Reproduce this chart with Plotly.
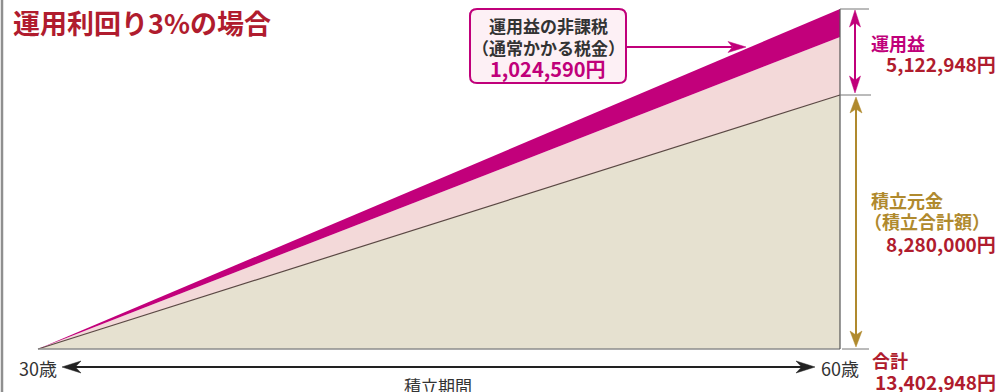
import plotly.graph_objects as go

W, H = 1005, 392

# ---- data ----
ages = [30, 60]                       # start / end age
# schematic band heights as drawn (illustration is not to scale)
principal_h = [0, 254]                # 積立元金 top
after_tax_h = [0, 312]                # top of pink band
total_h = [0, 340]                    # 合計 top
principal_amount = 8280000
profit_amount = 5122948
tax_amount = 1024590
total_amount = 13402948
age_labels = ["30歳", "60歳"]

FONT = "Noto Sans CJK JP"
DARK = "#333333"
RED = "#b01c2e"
MAG = "#c0007a"
GOLD = "#b08a2e"

def px(x):
    return x / W

def py(y):
    return 1 - y / H

x_per_px = (ages[1] - ages[0]) / (840 - 38)
xr = [ages[0] - 38 * x_per_px, ages[1] + (W - 840) * x_per_px]
yr = [-(H - 349), 349]

fig = go.Figure()
fig.add_trace(go.Scatter(x=ages, y=principal_h, mode="lines", fill="tozeroy",
                         fillcolor="#e6e1d0", line=dict(color="#5a4843", width=1.2),
                         hoverinfo="skip", showlegend=False))
fig.add_trace(go.Scatter(x=ages, y=after_tax_h, mode="lines", fill="tonexty",
                         fillcolor="#f3d9d9", line=dict(color="#f3d9d9", width=0),
                         hoverinfo="skip", showlegend=False))
fig.add_trace(go.Scatter(x=ages, y=total_h, mode="lines", fill="tonexty",
                         fillcolor="#c2007b", line=dict(color="#c2007b", width=0),
                         hoverinfo="skip", showlegend=False))

shapes = []
# frame lines of the triangle (data coords)
shapes.append(dict(type="line", xref="x", yref="y", x0=ages[0], x1=ages[1], y0=0, y1=0,
                   line=dict(color="#8c8c8c", width=1.5)))
shapes.append(dict(type="line", xref="x", yref="y", x0=ages[1], x1=ages[1], y0=0, y1=total_h[1],
                   line=dict(color="#555555", width=1.2)))

def pline(x0, y0, x1, y1, color, width):
    shapes.append(dict(type="line", xref="paper", yref="paper",
                       x0=px(x0), y0=py(y0), x1=px(x1), y1=py(y1),
                       line=dict(color=color, width=width), layer="above"))

def head(tx, ty, dx, dy, length, hw, notch, color):
    # dx,dy unit vector pointing in arrow direction (tip at tx,ty)
    bx, by = tx - dx * length, ty - dy * length
    nx, ny = -dy, dx
    nxp, nyp = tx - dx * length * (1 - notch), ty - dy * length * (1 - notch)
    pts = [(tx, ty), (bx + nx * hw, by + ny * hw), (nxp, nyp), (bx - nx * hw, by - ny * hw)]
    path = "M " + " L ".join(f"{px(a):.5f},{py(b):.5f}" for a, b in pts) + " Z"
    shapes.append(dict(type="path", xref="paper", yref="paper", path=path,
                       fillcolor=color, line=dict(color=color, width=0.5), layer="above"))

# left page border
pline(2, 0, 2, H, "#8f8f8f", 2.5)

# right-side tick lines
pline(840, 9, 869, 9, "#777777", 1)
pline(840, 95, 871, 95, "#777777", 1)
pline(842, 349, 869, 349, "#777777", 1)

# magenta double arrow (運用益)
pline(855, 20, 855, 84, MAG, 2)
head(855, 10, 0, -1, 17, 5.5, 0.25, MAG)
head(855, 93, 0, 1, 17, 5.5, 0.25, MAG)
# gold double arrow (積立元金)
pline(856, 108, 856, 336, GOLD, 2)
head(856, 97, 0, -1, 16, 6, 0.25, GOLD)
head(856, 347, 0, 1, 16, 6, 0.25, GOLD)

# bottom period arrow
pline(72, 367, 806, 367, "#222222", 2)
head(62, 367, -1, 0, 19, 6, 0.3, "#222222")
head(815, 367, 1, 0, 19, 6, 0.3, "#222222")

# callout box (rounded)
x0, y0, x1, y1, r = 470, 9, 626, 83, 7
pts = (f"M {px(x0 + r)},{py(y0)} L {px(x1 - r)},{py(y0)} Q {px(x1)},{py(y0)} {px(x1)},{py(y0 + r)} "
       f"L {px(x1)},{py(y1 - r)} Q {px(x1)},{py(y1)} {px(x1 - r)},{py(y1)} "
       f"L {px(x0 + r)},{py(y1)} Q {px(x0)},{py(y1)} {px(x0)},{py(y1 - r)} "
       f"L {px(x0)},{py(y0 + r)} Q {px(x0)},{py(y0)} {px(x0 + r)},{py(y0)} Z")
shapes.append(dict(type="path", xref="paper", yref="paper", path=pts,
                   fillcolor="#fdf0f5", line=dict(color=MAG, width=2), layer="above"))
# callout arrow
pline(627, 47, 732, 47, MAG, 2)
head(746, 47, 1, 0, 18, 5.5, 0.25, MAG)

ann = []

def text(t, x, y, size, color, xanchor="left", bold=False):
    ann.append(dict(text=f"<b>{t}</b>" if bold else t, x=px(x), y=py(y), xref="paper", yref="paper",
                    xanchor=xanchor, yanchor="middle", showarrow=False,
                    font=dict(family=FONT, size=size, color=color)))

text("運用利回り3%の場合", 11, 22, 27, RED, bold=True)

text("運用益の非課税", 548, 25, 17, DARK, "center", bold=True)
text("（通常かかる税金）", 548, 47, 17, DARK, "center", bold=True)
text(f"{tax_amount:,}円", 548, 69, 20, MAG, "center", bold=True)

text("運用益", 869, 43, 18, MAG, bold=True)
text(f"{profit_amount:,}円", 998, 64, 19, RED, "right", bold=True)
text("積立元金", 869, 200, 18, GOLD, bold=True)
text("（積立合計額）", 862, 221, 18, GOLD, bold=True)
text(f"{principal_amount:,}円", 998, 243, 19, RED, "right", bold=True)
text("合計", 870, 360, 18, RED, bold=True)
text(f"{total_amount:,}円", 998, 381, 19, RED, "right", bold=True)

text(age_labels[0], 17, 368, 18, DARK)
text(age_labels[1], 819, 368, 18, DARK)
text("積立期間", 438, 385, 17, DARK, "center")

fig.update_layout(
    width=W, height=H,
    margin=dict(l=0, r=0, t=0, b=0, pad=0),
    paper_bgcolor="white", plot_bgcolor="white",
    xaxis=dict(range=xr, visible=False, fixedrange=True),
    yaxis=dict(range=yr, visible=False, fixedrange=True),
    shapes=shapes, annotations=ann, showlegend=False,
)
fig.write_html("out.html", config={"displayModeBar": False})
